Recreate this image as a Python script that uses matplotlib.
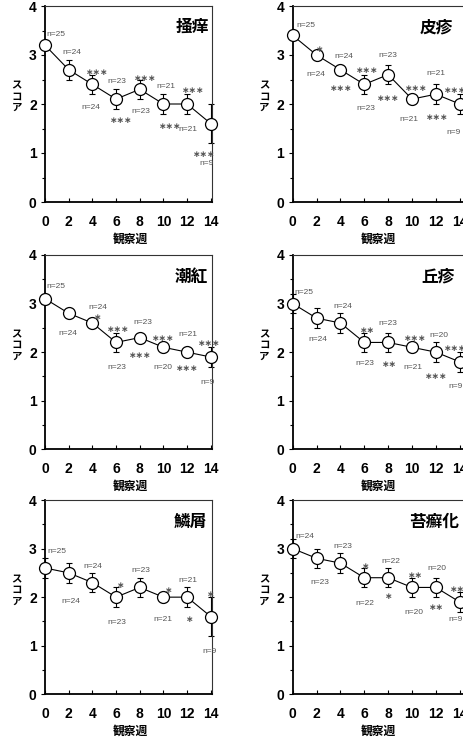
import matplotlib
matplotlib.use("Agg")
import matplotlib.pyplot as plt
from matplotlib.ticker import MultipleLocator

plt.rcParams['font.family'] = ['Noto Sans CJK JP', 'DejaVu Sans']

# ---------------- data ----------------
weeks = [0, 2, 4, 6, 8, 10, 12, 14]

titles = ["掻痒", "皮疹", "潮紅", "丘疹", "鱗屑", "苔癬化"]

itch_mean = [3.2, 2.7, 2.4, 2.1, 2.3, 2.0, 2.0, 1.6]
itch_sd = [0.1, 0.2, 0.2, 0.2, 0.2, 0.2, 0.2, 0.4]
itch_n = [25, 24, 24, 23, 23, 21, 21, 9]
itch_sig = ["", "", "***", "***", "***", "***", "***", "***"]

rash_mean = [3.4, 3.0, 2.7, 2.4, 2.6, 2.1, 2.2, 2.0]
rash_sd = [0.1, 0.1, 0.1, 0.2, 0.2, 0.1, 0.2, 0.2]
rash_n = [25, 24, 24, 23, 23, 21, 21, 9]
rash_sig = ["", "*", "***", "***", "***", "***", "***", "***"]

flush_mean = [3.1, 2.8, 2.6, 2.2, 2.3, 2.1, 2.0, 1.9]
flush_sd = [0.1, 0.1, 0.1, 0.2, 0.1, 0.1, 0.1, 0.2]
flush_n = [25, 24, 24, 23, 23, 20, 21, 9]
flush_sig = ["", "", "*", "***", "***", "***", "***", "***"]

papule_mean = [3.0, 2.7, 2.6, 2.2, 2.2, 2.1, 2.0, 1.8]
papule_sd = [0.2, 0.2, 0.2, 0.2, 0.2, 0.1, 0.2, 0.2]
papule_n = [25, 24, 24, 23, 23, 21, 20, 9]
papule_sig = ["", "", "", "**", "**", "***", "***", "***"]

scale_mean = [2.6, 2.5, 2.3, 2.0, 2.2, 2.0, 2.0, 1.6]
scale_sd = [0.2, 0.2, 0.2, 0.2, 0.2, 0.1, 0.2, 0.4]
scale_n = [25, 24, 24, 23, 23, 21, 21, 9]
scale_sig = ["", "", "", "*", "", "*", "*", "*"]

lichen_mean = [3.0, 2.8, 2.7, 2.4, 2.4, 2.2, 2.2, 1.9]
lichen_sd = [0.2, 0.2, 0.2, 0.2, 0.2, 0.2, 0.2, 0.2]
lichen_n = [24, 23, 23, 22, 22, 20, 20, 9]
lichen_sig = ["", "", "", "*", "*", "**", "**", "**"]

means = [itch_mean, rash_mean, flush_mean, papule_mean, scale_mean, lichen_mean]
sds = [itch_sd, rash_sd, flush_sd, papule_sd, scale_sd, lichen_sd]
ns = [itch_n, rash_n, flush_n, papule_n, scale_n, lichen_n]
sigs = [itch_sig, rash_sig, flush_sig, papule_sig, scale_sig, lichen_sig]

# ---------------- layout (label positions in data coords) ----------------
n_pos = [
    [(0.93, 3.42), (2.25, 3.05), (3.86, 1.93), (6.05, 2.45), (8.08, 1.85), (10.19, 2.36), (12.1, 1.48), (13.66, 0.78)],
    [(1.12, 3.6), (1.96, 2.6), (4.27, 2.96), (6.09, 1.91), (7.99, 2.99), (9.78, 1.68), (12.0, 2.62), (13.49, 1.42)],
    [(0.96, 3.36), (1.89, 2.39), (4.42, 2.92), (6.03, 1.69), (8.23, 2.61), (9.92, 1.69), (12.03, 2.37), (13.72, 1.38)],
    [(0.96, 3.23), (2.08, 2.26), (4.2, 2.95), (6.03, 1.76), (8.0, 2.58), (10.11, 1.69), (12.28, 2.35), (13.63, 1.29)],
    [(1.04, 2.94), (2.16, 1.91), (4.02, 2.64), (6.04, 1.48), (8.07, 2.55), (9.98, 1.54), (12.03, 2.35), (13.92, 0.88)],
    [(1.04, 3.25), (2.25, 2.31), (4.22, 3.04), (6.04, 1.87), (8.24, 2.73), (10.12, 1.69), (12.09, 2.58), (13.64, 1.53)],
]
sig_pos = [
    [None, None, (4.44, 2.64), (6.47, 1.66), (8.5, 2.52), (10.56, 1.55), (12.53, 2.27), (13.43, 0.97)],
    [None, (2.23, 3.12), (4.05, 2.32), (6.23, 2.68), (8.04, 2.11), (10.34, 2.32), (12.1, 1.73), (13.58, 2.28)],
    [None, None, (4.42, 2.71), (6.17, 2.46), (8.03, 1.93), (10.0, 2.28), (12.03, 1.67), (13.86, 2.18)],
    [None, None, None, (6.23, 2.44), (8.14, 1.74), (10.25, 2.28), (12.0, 1.5), (13.63, 2.07)],
    [None, None, None, (6.41, 2.24), None, (10.46, 2.13), (12.23, 1.55), (13.97, 2.06)],
    [None, None, None, (6.13, 2.63), (8.01, 2.01), (10.32, 2.44), (12.09, 1.79), (13.78, 2.16)],
]
title_pos = [(13.85, 3.57), (13.44, 3.57), (13.77, 3.55), (13.58, 3.55), (13.68, 3.55), (13.91, 3.55)]

W, H = 464, 742
fig = plt.figure(figsize=(W / 100, H / 100), dpi=100)

col_left = [45, 292.7]
col_scale = [11.84, 11.93]
col_xmax = [14.11, 14.45]
row_top = [6, 255, 500]
row_bot = [202, 449.3, 694.3]

tick_font = dict(family=['Liberation Sans', 'DejaVu Sans'], weight='bold', size=10)
grey = '#555555'

for i in range(6):
    r, c = divmod(i, 2)
    left = col_left[c] / W
    width = col_scale[c] * col_xmax[c] / W
    bottom = 1 - row_bot[r] / H
    height = (row_bot[r] - row_top[r]) / H
    ax = fig.add_axes([left, bottom, width, height])
    ax.set_xlim(0, col_xmax[c])
    ax.set_ylim(0, 4)

    ax.errorbar(weeks, means[i], yerr=sds[i], fmt='none', ecolor='black',
                elinewidth=0.8, capsize=2, capthick=0.8, zorder=2, clip_on=False)
    ax.plot(weeks, means[i], '-', color='black', lw=0.8, marker='o', ms=8.6,
            mfc='white', mec='black', mew=0.9, zorder=3, clip_on=False)

    for j in range(len(weeks)):
        px, py = n_pos[i][j]
        ax.text(px, py, f"n={ns[i][j]}", ha='center', va='center', color=grey,
                fontsize=6, family=['Liberation Sans', 'DejaVu Sans'])
        if sigs[i][j] and sig_pos[i][j] is not None:
            sx, sy = sig_pos[i][j]
            ax.text(sx, sy, sigs[i][j].replace('*', '∗'), ha='center', va='center',
                    color=grey, fontsize=6.5, family=['DejaVu Sans'], fontweight='bold')

    tx, ty = title_pos[i]
    ax.text(tx, ty, titles[i], ha='right', va='center', fontsize=12,
            fontweight='bold', color='black', family=['Noto Sans CJK JP', 'DejaVu Sans'])

    ax.set_xticks(weeks)
    ax.set_yticks([0, 1, 2, 3, 4])
    ax.yaxis.set_minor_locator(MultipleLocator(0.5))
    ax.set_xticklabels([str(w) for w in weeks], fontdict=tick_font)
    ax.set_yticklabels(['0', '1', '2', '3', '4'], fontdict=tick_font)
    ax.tick_params(axis='x', direction='in', length=3, width=0.8, pad=9)
    ax.tick_params(axis='y', which='major', direction='out', length=3, width=0.8, pad=3)
    ax.tick_params(axis='y', which='minor', direction='out', length=2.5, width=0.8)

    for s in ['left', 'bottom']:
        ax.spines[s].set_linewidth(1.3)
        ax.spines[s].set_color('black')
    for s in ['top', 'right']:
        ax.spines[s].set_linewidth(0.8)
        ax.spines[s].set_color('#333333')

    ax.annotate("ス\nコ\nア", xy=(0, 0.536), xycoords='axes fraction',
                xytext=(-20.5, 0), textcoords='offset points', ha='center', va='center',
                fontsize=7.5, fontweight='bold', linespacing=1.15,
                family=['Noto Sans CJK JP', 'DejaVu Sans'])
    ax.annotate("観察週", xy=(7.2, 0), xycoords=ax.get_xaxis_transform(),
                xytext=(0, -26.6), textcoords='offset points', ha='center', va='center',
                fontsize=8.5, fontweight='bold', family=['Noto Sans CJK JP', 'DejaVu Sans'])

fig.savefig("out.png", dpi=100, facecolor='white')
